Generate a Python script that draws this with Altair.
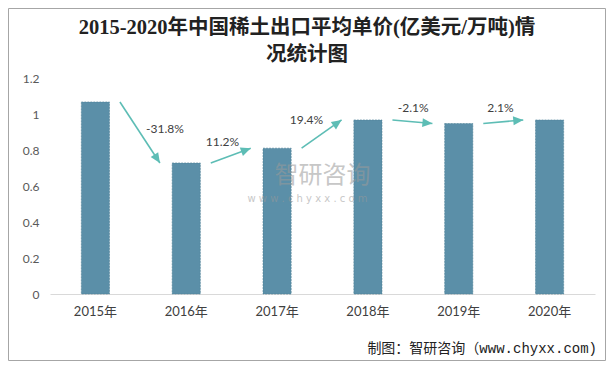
import math
import altair as alt
import pandas as pd

# ---- data ----
years = ["2015年", "2016年", "2017年", "2018年", "2019年", "2020年"]
prices = [1.067, 0.728, 0.810, 0.967, 0.947, 0.967]
changes = ["-31.8%", "11.2%", "19.4%", "-2.1%", "2.1%"]
y_ticks = [0, 0.2, 0.4, 0.6, 0.8, 1.0, 1.2]
title_lines = ["2015-2020年中国稀土出口平均单价(亿美元/万吨)情", "况统计图"]
footer_text = "制图：智研咨询（www.chyxx.com)"
watermark_main = "智研咨询"
watermark_sub = "w w w . c h y x x . c o m"

# ---- layout / style ----
W, H = 545, 216
YMAX = 1.2
N = len(years)
step = W / N
ppu = H / YMAX
BAR = "#5b8fa8"
ARROW = "#5dbdb5"
TXT = "#404040"
LATIN_CJK = "Lato, 'Noto Sans CJK SC'"

bars_df = pd.DataFrame({"year": years, "price": prices})

arrow_rows = []
for i, lab in enumerate(changes):
    x0, x1 = i + 0.77, i + 1.21
    y0, y1 = prices[i], prices[i + 1]
    dxp = (x1 - x0) * step
    dyp = -(y1 - y0) * ppu
    ang = math.degrees(math.atan2(dxp, -dyp)) % 360
    mx, my = (x0 + x1) / 2, (y0 + y1) / 2
    if abs(dyp) > 30:
        lx, ly = mx + 25 / step, my + 3 / ppu
    else:
        rise = -dyp
        lx, ly = mx - (rise / 2 + 1) / step, my + 14 / ppu
    arrow_rows.append(dict(x0=x0, x1=x1, y0=y0, y1=y1, ang=ang, lx=lx, ly=ly, lab=lab))
arrows_df = pd.DataFrame(arrow_rows)

yscale = alt.Scale(domain=[0, YMAX], nice=False, zero=True)
yaxis = alt.Axis(title=None, values=y_ticks, grid=False, domain=False, ticks=False,
                 labelPadding=11, labelFontSize=12, labelColor="#595959",
                 labelFont="Lato", format="~g")
xq = alt.Scale(domain=[0, N], nice=False, zero=False)

bars = alt.Chart(bars_df).mark_bar(
    color=BAR, stroke="#4d7f96", strokeWidth=0.6, strokeDash=[2, 1]
).encode(
    x=alt.X("year:N", sort=years,
            scale=alt.Scale(paddingInner=0.69, paddingOuter=0.345),
            axis=alt.Axis(title=None, labelAngle=0, domainColor="#d9d9d9", domainWidth=1,
                          ticks=False, labelPadding=11, labelFontSize=13, labelColor=TXT,
                          labelFont=LATIN_CJK)),
    y=alt.Y("price:Q", scale=yscale, axis=yaxis),
)

lines = alt.Chart(arrows_df).mark_rule(color=ARROW, strokeWidth=1.6).encode(
    x=alt.X("x0:Q", scale=xq, axis=None),
    x2="x1:Q",
    y=alt.Y("y0:Q", scale=yscale, axis=yaxis),
    y2="y1:Q",
)

heads = alt.Chart(arrows_df).mark_point(
    shape="M0,0L-0.9,2L0.9,2Z", filled=True, color=ARROW, opacity=1, size=100
).encode(
    x=alt.X("x1:Q", scale=xq, axis=None),
    y=alt.Y("y1:Q", scale=yscale, axis=yaxis),
    angle=alt.Angle("ang:Q", scale=None),
)

labels = alt.Chart(arrows_df).mark_text(
    font="Lato", fontSize=12, color=TXT, align="center", baseline="middle"
).encode(
    x=alt.X("lx:Q", scale=xq, axis=None),
    y=alt.Y("ly:Q", scale=yscale, axis=yaxis),
    text="lab:N",
)

wm1 = alt.Chart(pd.DataFrame({"t": [watermark_main]})).mark_text(
    font="Noto Sans CJK SC", fontSize=24, color="#9a9a9a", opacity=0.55,
    align="center", baseline="middle"
).encode(x=alt.value(W / 2), y=alt.value(98), text="t:N")

wm2 = alt.Chart(pd.DataFrame({"t": [watermark_sub]})).mark_text(
    font="DejaVu Sans", fontSize=10, color="#9a9a9a", opacity=0.55,
    align="center", baseline="middle"
).encode(x=alt.value(W / 2 - 15), y=alt.value(121), text="t:N")

title = alt.Chart(pd.DataFrame({"t": ["\n".join(title_lines)]})).mark_text(
    font="'Liberation Serif', 'Noto Sans CJK SC'", fontSize=20.5, fontWeight="bold",
    color="#222222", align="center", baseline="middle", lineBreak="\n", lineHeight=27
).encode(x=alt.value(257), y=alt.value(-50), text="t:N")

footer = alt.Chart(pd.DataFrame({"t": [footer_text]})).mark_text(
    font="'Liberation Mono', 'Noto Sans CJK SC'", fontSize=14, color="#222222",
    align="right", baseline="middle"
).encode(x=alt.value(547), y=alt.value(271), text="t:N")

border = alt.Chart(pd.DataFrame({"a": [0]})).mark_rect(
    fillOpacity=0, stroke="#a6a6a6", strokeWidth=1
).encode(x=alt.value(-41.5), x2=alt.value(555.5), y=alt.value(-69.5), y2=alt.value(282.5))

chart = alt.layer(bars, wm1, wm2, lines, heads, labels, title, footer, border).resolve_scale(
    x="independent"
).properties(
    width=W, height=H,
    autosize=alt.AutoSizeParams(type="none"),
    padding={"left": 42, "top": 70, "right": 11, "bottom": 67},
    background="white",
).configure_view(stroke=None)

chart.save("out.html", embed_options={"renderer": "svg", "actions": False})
